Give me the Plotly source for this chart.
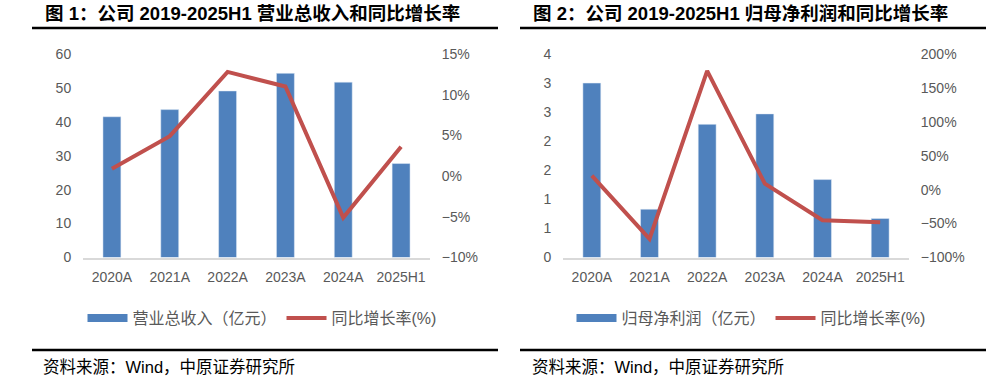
import plotly.graph_objects as go

categories = ["2020A", "2021A", "2022A", "2023A", "2024A", "2025H1"]
revenue = [41.5, 43.6, 49.1, 54.3, 51.7, 27.7]
revenue_yoy = [0.9, 4.9, 12.8, 11.0, -5.1, 3.6]
profit = [3.0, 0.83, 2.29, 2.47, 1.34, 0.67]
profit_yoy = [20.6, -72.5, 175.0, 8.8, -45.0, -48.0]

profit_tickvals = [0, 0.5, 1, 1.5, 2, 2.5, 3, 3.5]
profit_ticktext = ["0", "1", "1", "2", "2", "3", "3", "4"]

title1 = "图 1：公司 2019-2025H1 营业总收入和同比增长率"
title2 = "图 2：公司 2019-2025H1 归母净利润和同比增长率"
bar_name1 = "营业总收入（亿元）"
bar_name2 = "归母净利润（亿元）"
line_name = "同比增长率(%)"
source = "资料来源：Wind，中原证券研究所"

BLUE = "#4F81BD"
RED = "#C0504D"
GRAY = "#595959"
FONT = "Liberation Sans, Arial, Noto Sans CJK SC, sans-serif"

W, H = 999, 381
def px(x):
    return x / W
def py(y):
    return 1 - y / H

fig = go.Figure()

# chart 1
fig.add_trace(go.Bar(x=categories, y=revenue, marker_color=BLUE, width=0.31,
                     xaxis="x", yaxis="y", showlegend=False, name=bar_name1))
fig.add_trace(go.Scatter(x=categories, y=revenue_yoy, mode="lines",
                         line=dict(color=RED, width=4), xaxis="x", yaxis="y2",
                         showlegend=False, name=line_name))
fig.add_trace(go.Scatter(x=[None], y=[None], mode="lines", line=dict(color=BLUE, width=8),
                         name=bar_name1, legend="legend", xaxis="x", yaxis="y"))
fig.add_trace(go.Scatter(x=[None], y=[None], mode="lines", line=dict(color=RED, width=4),
                         name=line_name, legend="legend", xaxis="x", yaxis="y"))

# chart 2
fig.add_trace(go.Bar(x=categories, y=profit, marker_color=BLUE, width=0.31,
                     xaxis="x2", yaxis="y3", showlegend=False, name=bar_name2))
fig.add_trace(go.Scatter(x=categories, y=profit_yoy, mode="lines",
                         line=dict(color=RED, width=4), xaxis="x2", yaxis="y4",
                         showlegend=False, name=line_name))
fig.add_trace(go.Scatter(x=[None], y=[None], mode="lines", line=dict(color=BLUE, width=8),
                         name=bar_name2, legend="legend2", xaxis="x2", yaxis="y3"))
fig.add_trace(go.Scatter(x=[None], y=[None], mode="lines", line=dict(color=RED, width=4),
                         name=line_name, legend="legend2", xaxis="x2", yaxis="y3"))

tickfont = dict(family=FONT, size=14, color=GRAY)
ydom = [py(257.5), py(54)]

xcommon = dict(type="category", range=[-0.5, 5.5], showline=True, linecolor="#D9D9D9",
               linewidth=1.5, showgrid=False, zeroline=False, tickfont=tickfont,
               ticks="outside", ticklen=6, tickcolor="rgba(0,0,0,0)", fixedrange=True,
               automargin=False)
ycommon = dict(showgrid=False, zeroline=False, showline=False, tickfont=tickfont,
               ticks="outside", ticklen=8, tickcolor="rgba(0,0,0,0)", fixedrange=True,
               automargin=False)

legfont = dict(family=FONT, size=16, color=GRAY)
fig.update_layout(
    width=W, height=H,
    margin=dict(l=0, r=0, t=0, b=0, autoexpand=False),
    paper_bgcolor="white", plot_bgcolor="white",
    barmode="overlay",
    xaxis=dict(domain=[px(83), px(430)], anchor="y", **xcommon),
    yaxis=dict(domain=ydom, anchor="x", range=[0, 60], dtick=10, tick0=0, **ycommon),
    yaxis2=dict(overlaying="y", side="right", anchor="x", range=[-10, 15], dtick=5,
                tick0=0, ticksuffix="%", **ycommon),
    xaxis2=dict(domain=[px(563), px(909)], anchor="y3", **xcommon),
    yaxis3=dict(domain=ydom, anchor="x2", range=[0, 3.5], tickvals=profit_tickvals,
                ticktext=profit_ticktext, **ycommon),
    yaxis4=dict(overlaying="y3", side="right", anchor="x2", range=[-100, 200], dtick=50,
                tick0=0, ticksuffix="%", **ycommon),
    legend=dict(orientation="h", x=px(262), y=py(318), xanchor="center", yanchor="middle",
                font=legfont, itemwidth=40, bgcolor="rgba(0,0,0,0)"),
    legend2=dict(orientation="h", x=px(751), y=py(318), xanchor="center", yanchor="middle",
                 font=legfont, itemwidth=40, bgcolor="rgba(0,0,0,0)"),
    showlegend=True,
)

titlefont = dict(family=FONT, size=18.5, color="black")
fig.add_annotation(text="<b>" + title1 + "</b>", x=px(43), y=py(14), xref="paper", yref="paper",
                   xanchor="left", yanchor="middle", showarrow=False, font=titlefont)
fig.add_annotation(text="<b>" + title2 + "</b>", x=px(531), y=py(14), xref="paper", yref="paper",
                   xanchor="left", yanchor="middle", showarrow=False, font=titlefont)

srcfont = dict(family=FONT, size=16.5, color="black")
fig.add_annotation(text=source, x=px(41), y=py(367), xref="paper", yref="paper",
                   xanchor="left", yanchor="middle", showarrow=False, font=srcfont)
fig.add_annotation(text=source, x=px(530), y=py(367), xref="paper", yref="paper",
                   xanchor="left", yanchor="middle", showarrow=False, font=srcfont)

for (x0, x1) in [(32, 498), (520, 986)]:
    for yy in (28, 350):
        fig.add_shape(type="line", xref="paper", yref="paper", x0=px(x0), x1=px(x1),
                      y0=py(yy), y1=py(yy), line=dict(color="black", width=2.5))

fig.write_html("out.html", config={"displayModeBar": False},
               post_script="document.body.style.margin='0';document.body.style.overflow='hidden';")
